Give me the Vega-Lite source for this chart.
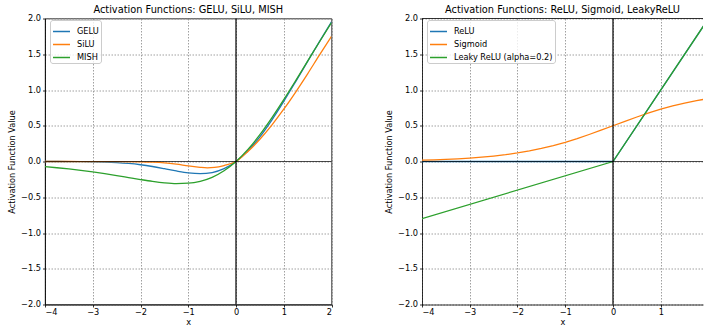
{
  "$schema": "https://vega.github.io/schema/vega-lite/v6.json",
  "padding": {"left": 7, "top": 3.5, "right": 0, "bottom": 0},
  "bounds": "flush",
  "spacing": 90,
  "config": {
    "font": "DejaVu Sans",
    "view": {"stroke": "black", "strokeWidth": 0.8},
    "axis": {
      "grid": true, "gridColor": "#888888", "gridDash": [1.5, 1.5], "gridWidth": 0.8,
      "domainColor": "black", "domainWidth": 0.8,
      "tickColor": "black", "tickSize": 2.5, "tickWidth": 0.8, "tickCount": 20,
      "labelFont": "DejaVu Sans", "labelFontSize": 8.2, "labelColor": "#000000", "labelPadding": 2,
      "titleFont": "DejaVu Sans", "titleFontSize": 8.2, "titleFontWeight": "normal", "titleColor": "#000000"
    },
    "axisX": {"titlePadding": 3, "labelPadding": 1},
    "axisY": {"titlePadding": 4},
    "title": {"font": "DejaVu Sans", "fontSize": 9.8, "fontWeight": "normal", "offset": -1, "color": "#000000"},
    "legend": {
      "orient": "none", "legendX": 5, "legendY": 1.5,
      "fillColor": "rgba(255,255,255,0.8)", "strokeColor": "#cccccc", "cornerRadius": 2.5, "padding": 2,
      "symbolType": "stroke", "symbolSize": 289, "symbolStrokeWidth": 1.5, "symbolOpacity": 1,
      "labelFont": "DejaVu Sans", "labelFontSize": 8.2, "labelColor": "#000000", "labelOffset": 6, "rowPadding": -3
    }
  },
  "datasets": {
    "left": [
      {"fn": "GELU", "x": -4, "value": -0.0001},
      {"fn": "GELU", "x": -3.75, "value": -0.0003},
      {"fn": "GELU", "x": -3.5, "value": -0.0008},
      {"fn": "GELU", "x": -3.25, "value": -0.0019},
      {"fn": "GELU", "x": -3, "value": -0.0040},
      {"fn": "GELU", "x": -2.75, "value": -0.0082},
      {"fn": "GELU", "x": -2.5, "value": -0.0155},
      {"fn": "GELU", "x": -2.25, "value": -0.0275},
      {"fn": "GELU", "x": -2, "value": -0.0455},
      {"fn": "GELU", "x": -1.75, "value": -0.0701},
      {"fn": "GELU", "x": -1.5, "value": -0.1002},
      {"fn": "GELU", "x": -1.25, "value": -0.1321},
      {"fn": "GELU", "x": -1, "value": -0.1587},
      {"fn": "GELU", "x": -0.75, "value": -0.1700},
      {"fn": "GELU", "x": -0.5, "value": -0.1543},
      {"fn": "GELU", "x": -0.25, "value": -0.1003},
      {"fn": "GELU", "x": 0, "value": 0},
      {"fn": "GELU", "x": 0.25, "value": 0.1497},
      {"fn": "GELU", "x": 0.5, "value": 0.3457},
      {"fn": "GELU", "x": 0.75, "value": 0.5800},
      {"fn": "GELU", "x": 1, "value": 0.8413},
      {"fn": "GELU", "x": 1.25, "value": 1.1179},
      {"fn": "GELU", "x": 1.5, "value": 1.3998},
      {"fn": "GELU", "x": 1.75, "value": 1.6799},
      {"fn": "GELU", "x": 2, "value": 1.9545},
      {"fn": "SiLU", "x": -4, "value": 0},
      {"fn": "SiLU", "x": -3.5, "value": -0.0003},
      {"fn": "SiLU", "x": -3, "value": -0.001},
      {"fn": "SiLU", "x": -2.5, "value": -0.002},
      {"fn": "SiLU", "x": -2, "value": -0.005},
      {"fn": "SiLU", "x": -1.75, "value": -0.01},
      {"fn": "SiLU", "x": -1.5, "value": -0.02},
      {"fn": "SiLU", "x": -1.25, "value": -0.038},
      {"fn": "SiLU", "x": -1, "value": -0.062},
      {"fn": "SiLU", "x": -0.75, "value": -0.082},
      {"fn": "SiLU", "x": -0.6, "value": -0.088},
      {"fn": "SiLU", "x": -0.45, "value": -0.083},
      {"fn": "SiLU", "x": -0.25, "value": -0.056},
      {"fn": "SiLU", "x": 0, "value": 0},
      {"fn": "SiLU", "x": 0.25, "value": 0.1405},
      {"fn": "SiLU", "x": 0.5, "value": 0.3112},
      {"fn": "SiLU", "x": 0.75, "value": 0.5094},
      {"fn": "SiLU", "x": 1, "value": 0.7311},
      {"fn": "SiLU", "x": 1.25, "value": 0.9716},
      {"fn": "SiLU", "x": 1.5, "value": 1.2264},
      {"fn": "SiLU", "x": 1.75, "value": 1.4910},
      {"fn": "SiLU", "x": 2, "value": 1.7500},
      {"fn": "MISH", "x": -4, "value": -0.0726},
      {"fn": "MISH", "x": -3.75, "value": -0.0872},
      {"fn": "MISH", "x": -3.5, "value": -0.1041},
      {"fn": "MISH", "x": -3.25, "value": -0.1236},
      {"fn": "MISH", "x": -3, "value": -0.1457},
      {"fn": "MISH", "x": -2.75, "value": -0.1702},
      {"fn": "MISH", "x": -2.5, "value": -0.1968},
      {"fn": "MISH", "x": -2.25, "value": -0.2248},
      {"fn": "MISH", "x": -2, "value": -0.2525},
      {"fn": "MISH", "x": -1.75, "value": -0.2780},
      {"fn": "MISH", "x": -1.5, "value": -0.2981},
      {"fn": "MISH", "x": -1.25, "value": -0.3084},
      {"fn": "MISH", "x": -1, "value": -0.3034},
      {"fn": "MISH", "x": -0.75, "value": -0.2764},
      {"fn": "MISH", "x": -0.5, "value": -0.2207},
      {"fn": "MISH", "x": -0.25, "value": -0.1299},
      {"fn": "MISH", "x": 0, "value": 0},
      {"fn": "MISH", "x": 0.25, "value": 0.1696},
      {"fn": "MISH", "x": 0.5, "value": 0.3752},
      {"fn": "MISH", "x": 0.75, "value": 0.6100},
      {"fn": "MISH", "x": 1, "value": 0.8651},
      {"fn": "MISH", "x": 1.25, "value": 1.1319},
      {"fn": "MISH", "x": 1.5, "value": 1.4034},
      {"fn": "MISH", "x": 1.75, "value": 1.6749},
      {"fn": "MISH", "x": 2, "value": 1.9440}
    ],
    "right": [
      {"fn": "ReLU", "x": -4, "value": 0},
      {"fn": "ReLU", "x": 0, "value": 0},
      {"fn": "ReLU", "x": 2, "value": 2},
      {"fn": "Sigmoid", "x": -4, "value": 0.0180},
      {"fn": "Sigmoid", "x": -3.75, "value": 0.0230},
      {"fn": "Sigmoid", "x": -3.5, "value": 0.0293},
      {"fn": "Sigmoid", "x": -3.25, "value": 0.0374},
      {"fn": "Sigmoid", "x": -3, "value": 0.0474},
      {"fn": "Sigmoid", "x": -2.75, "value": 0.0601},
      {"fn": "Sigmoid", "x": -2.5, "value": 0.0759},
      {"fn": "Sigmoid", "x": -2.25, "value": 0.0954},
      {"fn": "Sigmoid", "x": -2, "value": 0.1192},
      {"fn": "Sigmoid", "x": -1.75, "value": 0.1480},
      {"fn": "Sigmoid", "x": -1.5, "value": 0.1824},
      {"fn": "Sigmoid", "x": -1.25, "value": 0.2227},
      {"fn": "Sigmoid", "x": -1, "value": 0.2689},
      {"fn": "Sigmoid", "x": -0.75, "value": 0.3208},
      {"fn": "Sigmoid", "x": -0.5, "value": 0.3775},
      {"fn": "Sigmoid", "x": -0.25, "value": 0.4378},
      {"fn": "Sigmoid", "x": 0, "value": 0.5},
      {"fn": "Sigmoid", "x": 0.25, "value": 0.5622},
      {"fn": "Sigmoid", "x": 0.5, "value": 0.6225},
      {"fn": "Sigmoid", "x": 0.75, "value": 0.6792},
      {"fn": "Sigmoid", "x": 1, "value": 0.7311},
      {"fn": "Sigmoid", "x": 1.25, "value": 0.7773},
      {"fn": "Sigmoid", "x": 1.5, "value": 0.8176},
      {"fn": "Sigmoid", "x": 1.75, "value": 0.8520},
      {"fn": "Sigmoid", "x": 2, "value": 0.8808},
      {"fn": "Leaky ReLU (alpha=0.2)", "x": -4, "value": -0.8},
      {"fn": "Leaky ReLU (alpha=0.2)", "x": 0, "value": 0},
      {"fn": "Leaky ReLU (alpha=0.2)", "x": 2, "value": 2}
    ]
  },
  "hconcat": [
    {
      "width": 286.5,
      "height": 286,
      "title": "Activation Functions: GELU, SiLU, MISH",
      "layer": [
        {
          "data": {"name": "left"},
          "mark": {"type": "line", "interpolate": "monotone", "strokeWidth": 1.3, "clip": true},
          "encoding": {
            "x": {"field": "x", "type": "quantitative", "scale": {"domain": [-4, 2], "nice": false, "zero": false},
                  "axis": {"values": [-4, -3, -2, -1, 0, 1, 2], "format": "d", "title": "x"}},
            "y": {"field": "value", "type": "quantitative", "scale": {"domain": [-2, 2], "nice": false},
                  "axis": {"values": [-2, -1.5, -1, -0.5, 0, 0.5, 1, 1.5, 2], "format": ".1f", "title": "Activation Function Value"}},
            "color": {"field": "fn", "type": "nominal", "sort": ["GELU", "SiLU", "MISH"],
                      "scale": {"domain": ["GELU", "SiLU", "MISH"], "range": ["#1f77b4", "#ff7f0e", "#2ca02c"]},
                      "legend": {"title": null}}
          }
        },
        {
          "data": {"values": [{"x": 0}]},
          "mark": {"type": "rule", "color": "black", "strokeWidth": 1.2},
          "encoding": {"x": {"field": "x", "type": "quantitative"}}
        },
        {
          "data": {"values": [{"value": 0}]},
          "mark": {"type": "rule", "color": "black", "strokeWidth": 1.2, "opacity": 0.7},
          "encoding": {"y": {"field": "value", "type": "quantitative"}}
        }
      ]
    },
    {
      "width": 281,
      "height": 286,
      "view": {"stroke": null},
      "title": "Activation Functions: ReLU, Sigmoid, LeakyReLU",
      "layer": [
        {
          "data": {"name": "right"},
          "mark": {"type": "line", "strokeWidth": 1.3, "clip": true},
          "encoding": {
            "x": {"field": "x", "type": "quantitative", "scale": {"domain": [-4, 1.885], "nice": false, "zero": false},
                  "axis": {"values": [-4, -3, -2, -1, 0, 1], "format": "d", "title": "x"}},
            "y": {"field": "value", "type": "quantitative", "scale": {"domain": [-2, 2], "nice": false},
                  "axis": {"values": [-2, -1.5, -1, -0.5, 0, 0.5, 1, 1.5, 2], "format": ".1f", "title": "Activation Function Value"}},
            "color": {"field": "fn", "type": "nominal", "sort": ["ReLU", "Sigmoid", "Leaky ReLU (alpha=0.2)"],
                      "scale": {"domain": ["ReLU", "Sigmoid", "Leaky ReLU (alpha=0.2)"], "range": ["#1f77b4", "#ff7f0e", "#2ca02c"]},
                      "legend": {"title": null}}
          }
        },
        {
          "data": {"values": [{"x": 0}]},
          "mark": {"type": "rule", "color": "black", "strokeWidth": 1.2},
          "encoding": {"x": {"field": "x", "type": "quantitative"}}
        },
        {
          "data": {"values": [{"value": 0}]},
          "mark": {"type": "rule", "color": "black", "strokeWidth": 1.2, "opacity": 0.7},
          "encoding": {"y": {"field": "value", "type": "quantitative"}}
        },
        {
          "data": {"values": [{"value": 2}]},
          "mark": {"type": "rule", "color": "black", "strokeWidth": 0.8},
          "encoding": {"y": {"field": "value", "type": "quantitative"}}
        }
      ]
    }
  ],
  "resolve": {"scale": {"color": "independent"}, "legend": {"color": "independent"}}
}
